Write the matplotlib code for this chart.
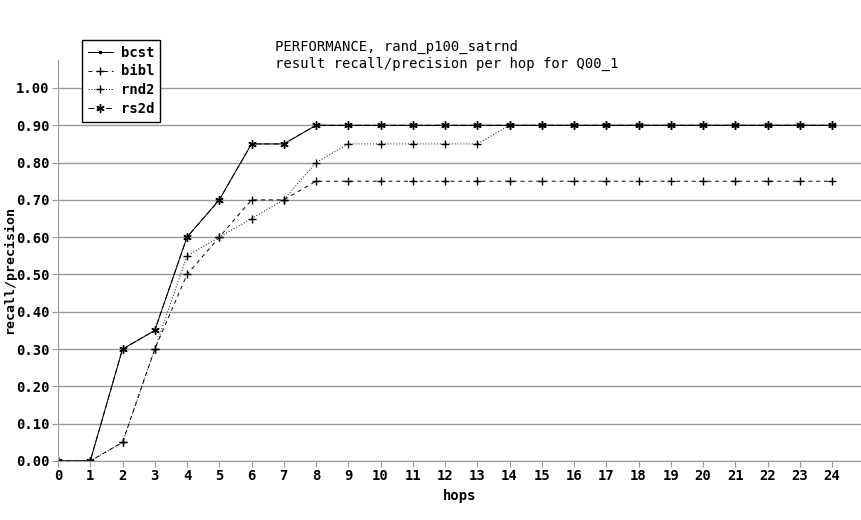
import matplotlib
matplotlib.use('Agg')
import matplotlib.pyplot as plt

# data
hops = list(range(0, 25))
bcst = [0.0, 0.0, 0.30, 0.35, 0.60, 0.70, 0.85, 0.85] + [0.90] * 17
bibl = [0.0, 0.0, 0.05, 0.30, 0.50, 0.60, 0.70, 0.70] + [0.75] * 17
rnd2 = [0.0, 0.0, 0.05, 0.30, 0.55, 0.60, 0.65, 0.70, 0.80] + [0.85] * 5 + [0.90] * 11
rs2d = [0.0, 0.0, 0.30, 0.35, 0.60, 0.70, 0.85, 0.85] + [0.90] * 17
yticks = [0.0, 0.1, 0.2, 0.3, 0.4, 0.5, 0.6, 0.7, 0.8, 0.9, 1.0]

plt.rcParams['font.family'] = 'DejaVu Sans Mono'
plt.rcParams['font.size'] = 10

fig = plt.figure(figsize=(8.62, 5.20), dpi=100)
ax = fig.add_axes([58 / 862, 59 / 520, 804 / 862, 401 / 520])

ax.plot(hops, bcst, color='black', lw=0.7, ls='-', marker='.', ms=3, label='bcst')
ax.plot(hops, bibl, color='black', lw=0.7, ls=(0, (4, 4)), marker='+', ms=6, label='bibl')
ax.plot(hops, rnd2, color='black', lw=0.7, ls=(0, (1, 2)), marker='+', ms=6, label='rnd2')
ax.plot(hops, rs2d, color='black', lw=0.7, ls=(0, (6, 3)), marker=(6, 2, 0), ms=6, label='rs2d')

ax.set_xlim(0, 24.93)
ax.set_ylim(0, 1.075)
ax.set_xticks(hops)
ax.set_yticks(yticks)
ax.set_yticklabels([f'{v:.2f}' for v in yticks], fontweight='bold')
ax.set_xticklabels([str(h) for h in hops], fontweight='bold')
ax.grid(axis='y', color='#999999', lw=1)
ax.set_axisbelow(True)
for s in ['top', 'right']:
    ax.spines[s].set_visible(False)
for s in ['left', 'bottom']:
    ax.spines[s].set_color('#999999')
ax.tick_params(axis='x', color='#999999', length=4, pad=2)
ax.tick_params(axis='y', color='#999999', length=4, pad=2)

ax.set_xlabel('hops', fontweight='bold', labelpad=4)
fig.text(10 / 862, 1 - 270 / 520, 'recall/precision', rotation=90, fontweight='bold',
         fontsize=9.5, ha='center', va='center')

fig.text(275 / 862, 1 - 47 / 520, 'PERFORMANCE, rand_p100_satrnd', ha='left', va='center')
fig.text(275 / 862, 1 - 64 / 520, 'result recall/precision per hop for Q00_1', ha='left', va='center')

leg = ax.legend(loc='upper left', bbox_to_anchor=(82 / 862, 1 - 40 / 520),
                bbox_transform=fig.transFigure, fancybox=False, framealpha=1,
                edgecolor='black', handlelength=1.8, labelspacing=0.35,
                borderpad=0.4, handletextpad=0.6, borderaxespad=0,
                prop={'weight': 'bold'})
leg.get_frame().set_linewidth(1)

fig.savefig('out.png', dpi=100)
